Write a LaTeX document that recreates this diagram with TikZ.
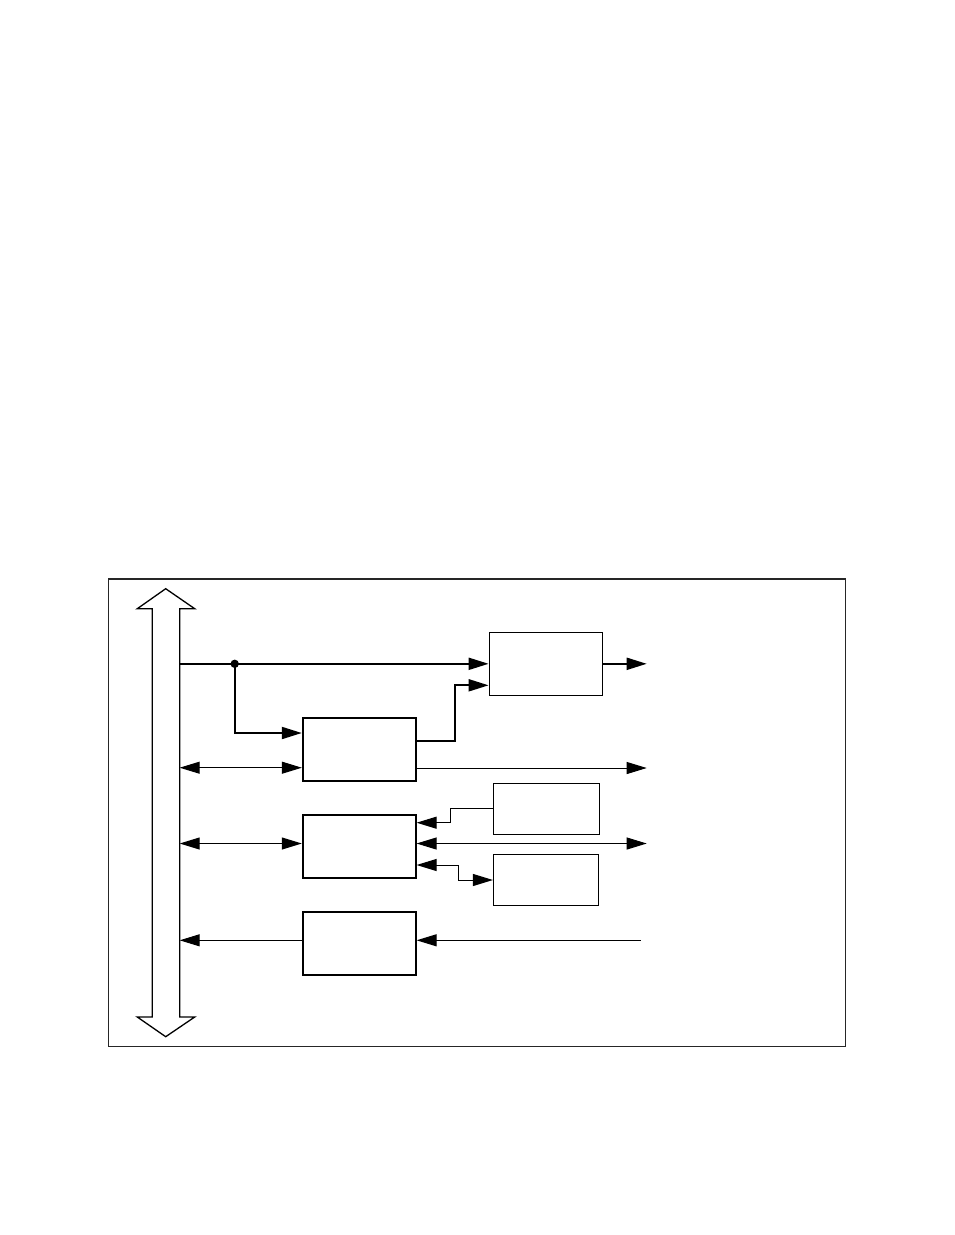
\documentclass[tikz,border=0pt]{standalone}
\usetikzlibrary{arrows.meta}
\begin{document}
\begin{tikzpicture}[x=1pt, y=-1pt, >={Triangle[length=20pt,width=12pt]}, line width=1pt,
	box/.style={draw, line width=1.2pt, minimum width=113pt, minimum height=63pt, inner sep=0pt},
	boxb/.style={box, line width=1.8pt},
	smallbox/.style={box, minimum width=106pt, minimum height=51pt}]
		\useasboundingbox (0,0) rectangle (954,1235);
		\draw[line width=1.5pt, color=black!85] (108.5,579) rectangle (845.7,1046.7);
		% bus
		\draw[line width=1.3pt] (152.3,608.7) -- (137.3,608.7) -- (165.7,588.7) -- (194.7,608.7) -- (179.7,608.7)
			-- (179.7,1017) -- (194.7,1017) -- (165.7,1036.7) -- (137.3,1017) -- (152.3,1017) -- cycle;
		% blocks
		\node[box] (A) at (545.7,663.8) {};
		\node[boxb] (B) at (359.2,749.7) {};
		\node[boxb] (C) at (359.2,846.3) {};
		\node[boxb] (F) at (359.2,943.5) {};
		\node[smallbox] (D) at (546.3,808.8) {};
		\node[smallbox, minimum width=105pt] (E) at (546,880) {};
		% points on the bus and free ends
		\coordinate (busA) at (179.7,663.8);
		\coordinate (busB) at (179.7,767.7);
		\coordinate (busC) at (179.7,843.5);
		\coordinate (busF) at (179.7,940.3);
		\coordinate (outA) at (646.7,663.8);
		\coordinate (outB) at (646.7,768);
		\coordinate (outC) at (646.7,843.5);
		\coordinate (inF) at (640.7,940.3);
		\coordinate (j) at (234.7,663.8);
		% connections
		\draw[->, line width=2pt] (busA) -- (A.west);
		\fill (j) circle (4.2);
		\draw[->, line width=2pt] (j) |- ([yshift=16.7pt]B.west);
		\draw[->, line width=2pt] ([yshift=9pt]B.east) -- ++(38.7,0) |- ([yshift=-21.5pt]A.west);
		\draw[->, line width=2pt] (A.east) -- (outA);
		\draw[<->] (busB) -- (busB -| B.west);
		\draw[->] (outB -| B.east) -- (outB);
		\draw[<->] (busC) -- (busC -| C.west);
		\draw[<->] (outC -| C.east) -- (outC);
		\draw[->] (D.west) -- ++(-42.6,0) |- ([yshift=23.6pt]C.east);
		\draw[<->] ([yshift=-18.7pt]C.east) -- ++(42,0) |- (E.west);
		\draw[->] (busF -| F.west) -- (busF);
		\draw[->] (inF) -- (inF -| F.east);
\end{tikzpicture}
\end{document}
